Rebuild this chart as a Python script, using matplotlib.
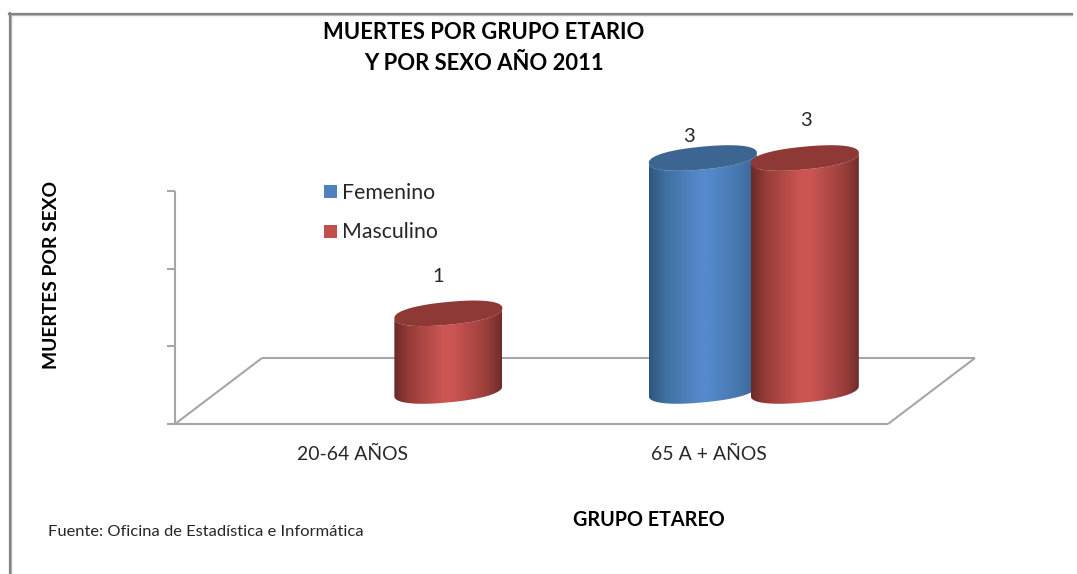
import numpy as np
import matplotlib
matplotlib.use("Agg")
import matplotlib.pyplot as plt
from matplotlib.patches import PathPatch, Rectangle
from matplotlib.path import Path
from matplotlib.colors import LinearSegmentedColormap
from matplotlib.lines import Line2D

categories = ["20-64 AÑOS", "65 A + AÑOS"]
femenino = [0, 3]
masculino = [1, 3]
title = "MUERTES POR GRUPO ETARIO\nY POR SEXO AÑO 2011"
xlabel = "GRUPO ETAREO"
ylabel = "MUERTES POR SEXO"
source = "Fuente: Oficina de Estadística e Informática"

W, H = 1077, 574
plt.rcParams["font.family"] = ["Lato", "DejaVu Sans"]
fig = plt.figure(figsize=(W / 100, H / 100), dpi=100, facecolor="white")


def fx(p):
    return p / W


def fy(p):
    return 1 - p / H


L, R, T, B = 175.0, 888.0, 191.0, 424.0
ax = fig.add_axes([fx(L), fy(B), (R - L) / W, (B - T) / H])
ax.patch.set_alpha(0)
for s in ax.spines.values():
    s.set_visible(False)
ax.set_xticks([])
ax.set_yticks([])
XMAX, YMAX = 2.0, 3.0
ux = (R - L) / XMAX  # px per x unit
uy = (B - T) / YMAX  # px per y unit

AXC = "#a6a6a6"
DX, DY = 87 / ux, 66 / uy  # floor depth


def line(xs, ys, **kw):
    ax.add_line(Line2D(xs, ys, color=AXC, lw=1.5, clip_on=False, solid_capstyle="butt", **kw))


# value axis
line([0, 0], [0, YMAX])
for v in range(4):
    line([-8 / ux, 0], [v, v])
# floor
line([-8 / ux, XMAX], [0, 0])
line([0, DX], [0, DY])
line([DX, XMAX + DX], [DY, DY])
line([XMAX, XMAX + DX], [0, DY])

STEP = 102 / ux
A, C, E = 54 / ux, 5 / uy, 11.4 / uy
PW = 0.88
t = np.linspace(0, 2 * np.pi, 361)


def ell(cx, cy, tt):
    u = np.sign(np.cos(tt)) * np.abs(np.cos(tt)) ** PW
    w = np.sign(np.sin(tt)) * np.abs(np.sin(tt)) ** PW
    return cx + A * u, cy + C * u + E * w


SHADES = {
    "b": (["#2c5680", "#3f6f9f", "#5589cb", "#5589cb", "#4474aa", "#34608f"],
          "#3c6591"),
    "r": (["#6b2a28", "#973c39", "#cd5653", "#cb5552", "#9a3e3b", "#702c2a"],
          "#8f3936"),
}
STOPS = [0, 0.14, 0.46, 0.55, 0.86, 1]


def cylinder(cx_front, v, key):
    cx = cx_front + DX / 2 + 0.6 / ux
    cy0, cy1 = DY / 2, DY / 2 + v
    cols, top = SHADES[key]
    tb = np.linspace(0, np.pi, 181)
    xb, yb = ell(cx, cy0, -tb)
    xt, yt = ell(cx, cy1, -tb[::-1])
    xs = np.r_[xb, xt]
    ys = np.r_[yb, yt]
    clip = PathPatch(Path(np.c_[xs, ys]), transform=ax.transData, fc="none", ec="none")
    ax.add_patch(clip)
    cmap = LinearSegmentedColormap.from_list("c", list(zip(STOPS, cols)))
    im = ax.imshow(np.linspace(0, 1, 256)[None, :], cmap=cmap, aspect="auto",
                   extent=[cx - A, cx + A, cy0 - 0.3, cy1 + 0.3], zorder=3)
    im.set_clip_box(fig.bbox)
    im.set_clip_path(clip)
    xe, ye = ell(cx, cy1, t)
    ax.fill(xe, ye, color=top, lw=0, zorder=3, clip_on=False)


xc = np.arange(len(categories)) + 0.5
off = STEP / 2
for i in range(len(categories)):
    if femenino[i] > 0:
        cylinder(xc[i] - off, femenino[i], "b")
    if masculino[i] > 0:
        cylinder(xc[i] + off, masculino[i], "r")

ax.set_xlim(0, XMAX)
ax.set_ylim(0, YMAX)

TXT = "#262626"
# data labels
for i, v, key, dx, dy in [(0, masculino[0], 1, -10, 38),
                          (1, femenino[1], -1, -13, 23),
                          (1, masculino[1], 1, 2, 39)]:
    x = xc[i] + key * off + DX / 2
    ax.annotate(str(v), (x, DY / 2 + v), xytext=(dx * 0.72, dy * 0.72 - 1),
                textcoords="offset points", ha="center", va="center",
                fontsize=14.5, color=TXT, annotation_clip=False, zorder=5)

# category labels
for x, c in zip(xc, categories):
    ax.annotate(c, (x, 0), xytext=(-0.8, -22), textcoords="offset points",
                ha="center", va="center", fontsize=13.95, color=TXT, annotation_clip=False)

# border
for xs, ys, col, lw in [([9, 1072], [15, 15], "#c0c0c0", 1.0),
                        ([11, 11], [574, 14], "#b5b5b5", 1.0),
                        ([9.5, 9.5], [574, 13], "#848484", 1.6),
                        ([9, 1072], [13.5, 13.5], "#848484", 1.6)]:
    fig.add_artist(Line2D([fx(x) for x in xs], [fy(y) for y in ys], color=col, lw=lw))

fig.text(fx(484), fy(48), title, ha="center", va="center", fontsize=15.85, fontweight="bold",
         color="black", linespacing=1.55)
fig.text(fx(52), fy(275), ylabel, rotation=90, ha="center", va="center", fontsize=13.85,
         fontweight="bold", color="black")
fig.text(fx(649), fy(520.5), xlabel, ha="center", va="center", fontsize=14.2,
         fontweight="bold", color="black")
fig.text(fx(48), fy(531.5), source, ha="left", va="center", fontsize=11.87, color=TXT)

# legend
for y, col, lab in [(191.5, "#4f81bd", "Femenino"), (231.5, "#c0504d", "Masculino")]:
    fig.add_artist(Rectangle((fx(323.5), fy(y + 6.5)), 13 / W, 13 / H, transform=fig.transFigure,
                             fc=col, ec="none"))
    fig.text(fx(341.5), fy(y + 1), lab, ha="left", va="center", fontsize=15.3, color=TXT)

fig.savefig("out.png", dpi=100, facecolor="white")
